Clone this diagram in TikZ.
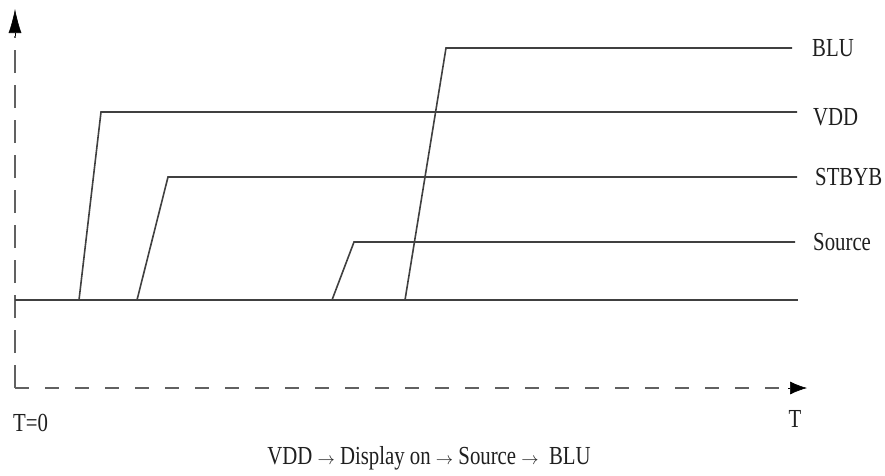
\documentclass[tikz,border=0pt]{standalone}
\usepackage{fontspec}
\setmainfont{Liberation Serif}[FakeStretch=0.8]
\usetikzlibrary{arrows.meta}
\newcommand{\capar}{{\fontsize{18}{20}\selectfont$\rightarrow$}}
\begin{document}
\begin{tikzpicture}[x=1pt,y=-1pt,
  sig/.style={draw=black!75, line width=1.6pt, line join=miter},
  axis/.style={draw=black!62, line width=1.8pt},
  tipline/.style={draw=black, fill=black, line width=0.6pt},
  lbl/.style={font=\fontsize{26}{30}\selectfont, text=black!88, inner sep=0pt},
  siglbl/.style={lbl, anchor=west}]
\useasboundingbox (0,0) rectangle (885,475);
% axes
\coordinate (O) at (15,388);
\coordinate (ytip) at (15,9);
\coordinate (ybase) at (15,36);
\coordinate (xtip) at (807,388);
\coordinate (xbase) at (788,388);
\draw[axis, dash pattern=on 23pt off 12pt] (O) -- (ybase);
\draw[axis, dash pattern=on 14pt off 16pt] (O) -- (xbase);
\draw[tipline, -{Latex[length=24pt,width=13pt]}] (ybase) -- (ytip);
\draw[tipline, -{Latex[length=17pt,width=13pt]}] (xbase) -- (xtip);
% baseline
\coordinate (b0) at (15,300);
\coordinate (b1) at (798,300);
\draw[sig] (b0) -- (b1);
% signals
\coordinate (vdd0) at (79,300);  \coordinate (vdd1) at (101,112); \coordinate (vdd2) at (797,112);
\coordinate (stb0) at (137,300); \coordinate (stb1) at (168,177); \coordinate (stb2) at (797,177);
\coordinate (src0) at (332,300); \coordinate (src1) at (354,242); \coordinate (src2) at (795,242);
\coordinate (blu0) at (405,300); \coordinate (blu1) at (446,48);  \coordinate (blu2) at (792,48);
\draw[sig] (vdd0) -- (vdd1) -- (vdd2);
\draw[sig] (stb0) -- (stb1) -- (stb2);
\draw[sig] (src0) -- (src1) -- (src2);
\draw[sig] (blu0) -- (blu1) -- (blu2);
% labels
\node[siglbl] (lblu) at (812,48) {BLU};
\node[siglbl] (lvdd) at (813,117) {VDD};
\node[siglbl] (lstb) at (815,177) {STBYB};
\node[siglbl] (lsrc) at (813,242) {Source};
\node[lbl, anchor=west] (t0) at (13,423) {T=0};
\node[lbl] (tt) at (795,419) {T};
\node[lbl] (cap) at (429,458) {VDD \capar\ Display on \capar\ Source \capar\ \ BLU};
\end{tikzpicture}
\end{document}
